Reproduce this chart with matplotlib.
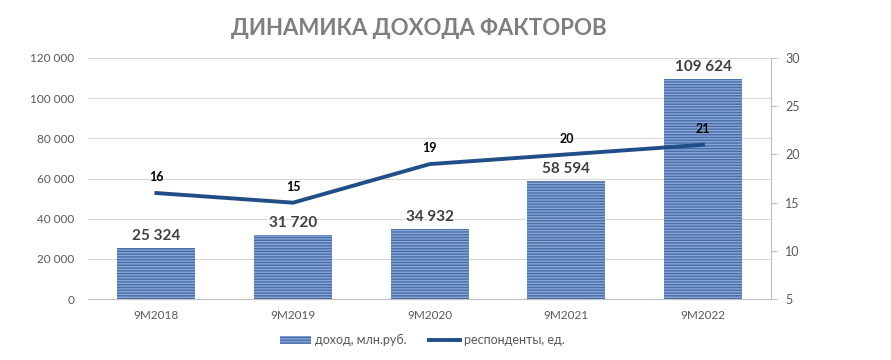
import numpy as np
import matplotlib
matplotlib.use("Agg")
import matplotlib.pyplot as plt
from matplotlib.ticker import FuncFormatter
from matplotlib.patches import Patch
from matplotlib.lines import Line2D

plt.rcParams['font.family'] = ['Lato', 'DejaVu Sans']
plt.rcParams['hatch.linewidth'] = 1.0

# Data
periods = ["9M2018", "9M2019", "9M2020", "9M2021", "9M2022"]
income = [25324, 31720, 34932, 58594, 109624]
respondents = [16, 15, 19, 20, 21]

fig = plt.figure(figsize=(8.91, 3.6), dpi=100)
ax = fig.add_axes([0.0988, 0.169, 0.767, 0.670])
ax2 = ax.twinx()

x = np.arange(len(periods))
ax.bar(x, income, width=0.57, color='#8aa6d4', edgecolor='#466eab',
       hatch='------', linewidth=0, zorder=2)
for xi, v in zip(x, income):
    ax.text(xi, v + 2500, f"{v:,}".replace(",", " "), ha='center', va='bottom',
            fontsize=11, fontweight='bold', color='#404040')

ax.set_ylim(0, 120000)
ax.set_yticks(np.arange(0, 120001, 20000))
ax.yaxis.set_major_formatter(FuncFormatter(lambda v, p: f"{int(v):,}".replace(",", " ")))
ax.set_xlim(-0.5, 4.5)
ax.set_xticks(x)
ax.set_xticklabels(periods)
ax.grid(axis='y', color='#d9d9d9', linewidth=0.8, zorder=0)
ax.set_axisbelow(True)
ax.tick_params(axis='y', length=0, labelsize=8.5, labelcolor='#595959', pad=10)
ax.tick_params(axis='x', length=0, labelsize=8.5, labelcolor='#595959', pad=8)
for s in ['left', 'top', 'right']:
    ax.spines[s].set_visible(False)
ax.spines['bottom'].set_color('#bfbfbf')

ax2.plot(x, respondents, color='#1f4e89', linewidth=2.8, zorder=3)
for xi, v in zip(x, respondents):
    ax2.text(xi, v + 1.0, str(v), ha='center', va='bottom',
             fontsize=9, fontweight='bold', color='black')
ax2.set_ylim(5, 30)
ax2.set_yticks(np.arange(5, 31, 5))
ax2.tick_params(axis='y', length=4, color='#bfbfbf', labelsize=9, labelcolor='#595959', pad=6)
for s in ['left', 'top', 'bottom']:
    ax2.spines[s].set_visible(False)
ax2.spines['right'].set_color('#bfbfbf')

fig.text(0.47, 0.92, "ДИНАМИКА ДОХОДА ФАКТОРОВ", ha='center', va='center',
         fontsize=16, fontweight='bold', color='#7f7f7f')

handles = [Patch(facecolor='#8aa6d4', edgecolor='#466eab', hatch='------', linewidth=0),
           Line2D([0], [0], color='#1f4e89', linewidth=2.8)]
fig.legend(handles, ["доход, млн.руб.", "респонденты, ед."], loc='center',
           bbox_to_anchor=(0.474, 0.055), ncol=2, frameon=False, fontsize=9,
           labelcolor='#595959', handlelength=2.5, handletextpad=0.3, columnspacing=1.8)

fig.savefig("out.png", dpi=100)
